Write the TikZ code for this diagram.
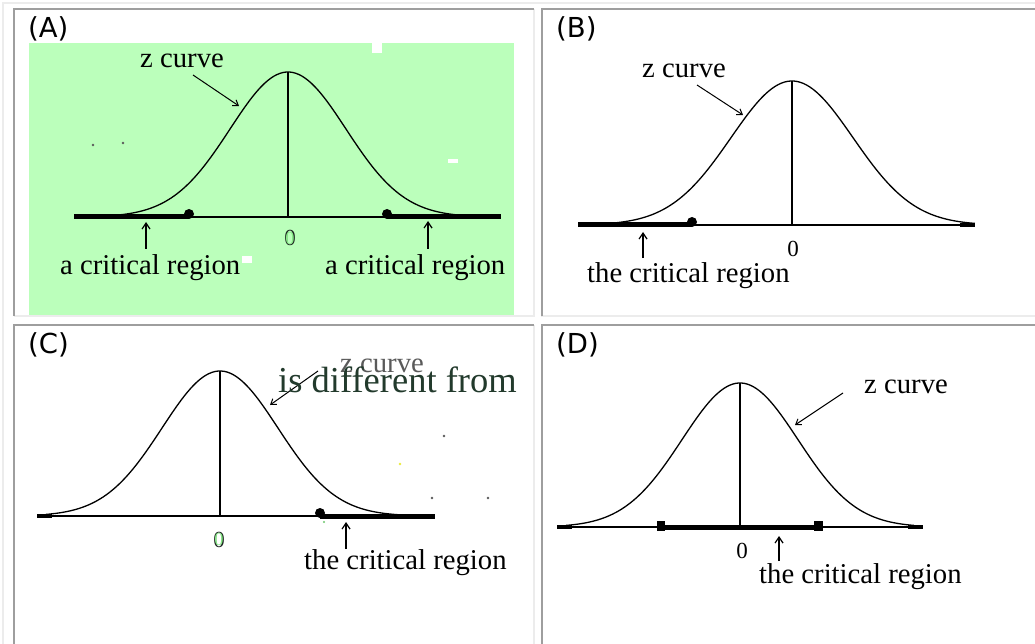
\documentclass[tikz,border=0pt]{standalone}
\usepackage{fontspec}
\setmainfont{Liberation Serif}
\newfontfamily\lblfont{DejaVu Sans}
\usetikzlibrary{arrows.meta}
\definecolor{greenbg}{RGB}{187,255,187}
\definecolor{celldark}{RGB}{158,158,158}
\definecolor{celllight}{RGB}{236,236,236}
\definecolor{zerofill}{RGB}{135,232,135}
\definecolor{outlinedark}{RGB}{28,36,32}
\definecolor{difftext}{RGB}{34,58,44}
\definecolor{speck}{RGB}{90,90,90}
\definecolor{yellowspeck}{RGB}{235,235,60}
\definecolor{greenspeck}{RGB}{110,200,110}
\begin{document}
\begin{tikzpicture}[x=1pt,y=-1pt,
  serif/.style={inner sep=0pt, anchor=base west, font=\fontsize{28.7}{30}\selectfont},
  plabel/.style={inner sep=0pt, anchor=base west, font=\lblfont\fontsize{27.5}{30}\selectfont},
  zero/.style={inner sep=0pt, anchor=base, font=\fontsize{23}{25}\selectfont},
  bigtext/.style={inner sep=0pt, anchor=base west, font=\fontsize{36.5}{38}\selectfont},
  curve/.style={line width=1.3pt, line join=round},
  axis/.style={line width=2pt},
  region/.style={line width=5pt},
  endpart/.style={line width=3.5pt},
  midline/.style={line width=1.8pt},
  pointer/.style={line width=1pt, -{Straight Barb[length=5pt,width=7pt]}},
  uparrow/.style={line width=1.2pt, -{Straight Barb[length=6pt,width=8pt]}},
  darkb/.style={celldark, line width=2pt},
  lightb/.style={celllight, line width=2pt},
]
\useasboundingbox (0,0) rectangle (1035,644);
\fill[white] (0,0) rectangle (1035,644);

% ---------- table borders ----------
\draw[lightb] (3,644) -- (3,3) -- (1035,3);
\draw[lightb] (534,9) -- (534,316) -- (14,316);
\draw[darkb] (14,316) -- (14,9) -- (534,9);
\draw[lightb] (541,316) -- (1035,316);
\draw[darkb] (542,316) -- (542,9) -- (1035,9);
\draw[lightb] (534,325) -- (534,644);
\draw[darkb] (14,644) -- (14,325) -- (534,325);
\draw[darkb] (542,644) -- (542,325) -- (1035,325);

% ================= Panel A =================
\fill[greenbg] (29,43) rectangle (514,315);
\fill[white] (372,43) rectangle (382,53);
\fill[white] (448,159) rectangle (458,163);
\fill[white] (242,256) rectangle (252,263);
\fill[speck] (93,145) circle (1.3);
\fill[speck] (123,143) circle (1.3);
\node[plabel] (labA) at (28,38) {(A)};
\draw[curve] plot[domain=-3.2:3.2, samples=120, smooth] ({288+58*\x},{217-145*exp(-0.5*(\x)*(\x))});
\coordinate (Aax1) at (74,217);
\coordinate (Aax2) at (501,217);
\coordinate (Adot1) at (189,214);
\coordinate (Adot2) at (387,214);
\draw[axis] (Aax1) -- (Aax2);
\draw[region] (Aax1) -- (189,217);
\draw[region] (387,217) -- (Aax2);
\fill (Adot1) circle (5);
\fill (Adot2) circle (5);
\coordinate (Apeak) at (288,72);
\coordinate (Abase) at (288,217);
\draw[midline] (Apeak) -- (Abase);
\node[zero, text=outlinedark] (A0o) at (290,246) {0};
\node[zero, text=zerofill, scale=0.8, anchor=center] (A0) at (290,238) {0};
\node[serif] (Az) at (140,68) {z curve};
\coordinate (Azs) at (193,75);
\coordinate (Azt) at (239,106);
\draw[pointer] (Azs) -- (Azt);
\node[serif] (AcrL) at (60,274) {a critical region};
\node[serif] (AcrR) at (325,274) {a critical region};
\coordinate (AupL1) at (146,249);
\coordinate (AupL2) at (146,222);
\coordinate (AupR1) at (428,249);
\coordinate (AupR2) at (428,221);
\draw[uparrow] (AupL1) -- (AupL2);
\draw[uparrow] (AupR1) -- (AupR2);

% ================= Panel B =================
\node[plabel] (labB) at (556,38) {(B)};
\draw[curve] plot[domain=-3.2:3.0, samples=120, smooth] ({792+61*\x},{225-144*exp(-0.5*(\x)*(\x))});
\coordinate (Bax1) at (578,225);
\coordinate (Bax2) at (975,225);
\coordinate (Bdot) at (692,222);
\draw[axis] (Bax1) -- (Bax2);
\draw[region] (Bax1) -- (692,225);
\draw[endpart] (960,225) -- (Bax2);
\fill (Bdot) circle (5);
\coordinate (Bpeak) at (792,81);
\coordinate (Bbase) at (792,225);
\draw[midline] (Bpeak) -- (Bbase);
\node[zero] (B0) at (793,256) {0};
\node[serif] (Bz) at (642,78) {z curve};
\coordinate (Bzs) at (697,85);
\coordinate (Bzt) at (743,115);
\draw[pointer] (Bzs) -- (Bzt);
\node[serif] (Bcr) at (587,282) {the critical region};
\coordinate (Bup1) at (643,258);
\coordinate (Bup2) at (643,232);
\draw[uparrow] (Bup1) -- (Bup2);

% ================= Panel C =================
\node[plabel] (labC) at (28,353) {(C)};
\fill[speck] (444,436) circle (1.3);
\fill[yellowspeck] (400,464) circle (1.3);
\fill[speck] (432,498) circle (1.3);
\fill[speck] (488,498) circle (1.3);
\fill[greenspeck] (324,522) circle (1.2);
\draw[curve] plot[domain=-3.0:3.2, samples=120, smooth] ({220+58*\x},{516-145*exp(-0.5*(\x)*(\x))});
\coordinate (Cax1) at (37,516);
\coordinate (Cax2) at (435,516);
\coordinate (Cdot) at (320,513);
\draw[axis] (Cax1) -- (Cax2);
\draw[endpart] (Cax1) -- (52,516);
\draw[region] (320,516) -- (Cax2);
\fill (Cdot) circle (5);
\coordinate (Cpeak) at (220,371);
\coordinate (Cbase) at (220,516);
\draw[midline] (Cpeak) -- (Cbase);
\node[zero, text=outlinedark] (C0o) at (219,547) {0};
\node[zero, text=zerofill, scale=0.8, anchor=center] (C0) at (219,539) {0};
\node[serif, text=speck] (Cz) at (340,372) {z curve};
\coordinate (Czs) at (318,371);
\coordinate (Czt) at (270,405);
\draw[pointer] (Czs) -- (Czt);
\node[bigtext, text=difftext] (Cdifftext) at (278,392) {is different from};
\node[serif] (Ccr) at (304,569) {the critical region};
\coordinate (Cup1) at (346,549);
\coordinate (Cup2) at (346,522);
\draw[uparrow] (Cup1) -- (Cup2);

% ================= Panel D =================
\node[plabel] (labD) at (556,353) {(D)};
\draw[curve] plot[domain=-3.0:3.0, samples=120, smooth] ({740+58*\x},{527-144*exp(-0.5*(\x)*(\x))});
\coordinate (Dax1) at (557,527);
\coordinate (Dax2) at (923,527);
\draw[axis] (Dax1) -- (Dax2);
\draw[endpart] (Dax1) -- (572,527);
\draw[endpart] (908,527) -- (Dax2);
\coordinate (Dreg1) at (657,527);
\coordinate (Dreg2) at (823,527);
\draw[region] (Dreg1) -- (Dreg2);
\fill (657,521) rectangle (665,531);
\fill (814,521) rectangle (823,531);
\coordinate (Dpeak) at (740,383);
\coordinate (Dbase) at (740,527);
\draw[midline] (Dpeak) -- (Dbase);
\node[zero] (D0) at (742,558) {0};
\node[serif] (Dz) at (864,393) {z curve};
\coordinate (Dzs) at (843,393);
\coordinate (Dzt) at (795,425);
\draw[pointer] (Dzs) -- (Dzt);
\node[serif] (Dcr) at (759,583) {the critical region};
\coordinate (Dup1) at (779,561);
\coordinate (Dup2) at (779,536);
\draw[uparrow] (Dup1) -- (Dup2);
\end{tikzpicture}
\end{document}
